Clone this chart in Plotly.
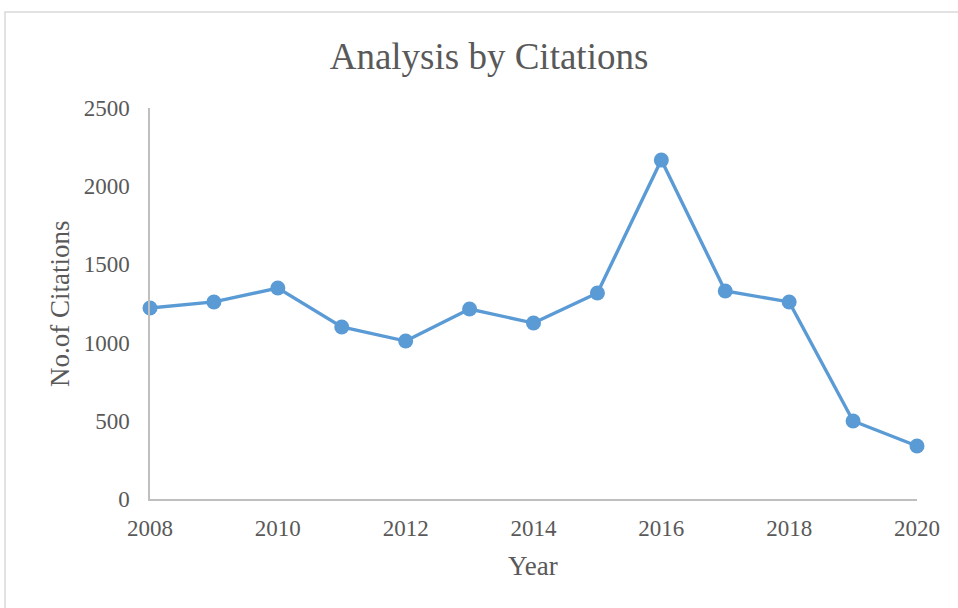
import plotly.graph_objects as go

years = [2008, 2009, 2010, 2011, 2012, 2013, 2014, 2015, 2016, 2017, 2018, 2019, 2020]
citations = [1221, 1260, 1349, 1100, 1010, 1215, 1125, 1317, 2167, 1330, 1260, 499, 339]
x_ticks = [2008, 2010, 2012, 2014, 2016, 2018, 2020]
y_ticks = [0, 500, 1000, 1500, 2000, 2500]

W, H = 958, 608
L, R, T, B = 150, 41, 108, 109
pw, ph = W - L - R, H - T - B

FONT = "Liberation Serif, Times New Roman, serif"
GRAY = "#595959"
BLUE = "#5b9bd5"

fig = go.Figure()
fig.add_trace(go.Scatter(
    x=years, y=citations, mode="lines+markers",
    line=dict(color=BLUE, width=3.4),
    marker=dict(color=BLUE, size=15),
    cliponaxis=False, showlegend=False,
))

def px_x(p):
    return (p - L) / pw

def px_y(p):
    return (H - B - p) / ph

fig.update_layout(
    width=W, height=H,
    margin=dict(l=L, r=R, t=T, b=B),
    paper_bgcolor="white", plot_bgcolor="white",
    font=dict(family=FONT, color=GRAY),
    title=dict(text="Analysis by Citations", font=dict(size=37, color=GRAY, family=FONT),
               x=px_x(489), xref="paper", xanchor="center",
               y=1 - 56 / H, yref="container", yanchor="middle"),
    xaxis=dict(range=[2008, 2020], tickvals=x_ticks, showgrid=False, zeroline=False,
               showline=True, linecolor="#bfbfbf", linewidth=1.5,
               ticks="", ticklabelstandoff=8,
               tickfont=dict(size=23, color=GRAY, family=FONT)),
    yaxis=dict(range=[0, 2500], tickvals=y_ticks, showgrid=False, zeroline=False,
               showline=True, linecolor="#bfbfbf", linewidth=1.5,
               ticks="", ticklabelstandoff=14,
               tickfont=dict(size=23, color=GRAY, family=FONT)),
    shapes=[dict(type="rect", xref="paper", yref="paper",
                 x0=px_x(5), x1=px_x(980), y0=px_y(640), y1=px_y(12),
                 line=dict(color="#d9d9d9", width=1.5), fillcolor="rgba(0,0,0,0)",
                 layer="below")],
    annotations=[
        dict(text="No.of Citations", xref="paper", yref="paper",
             x=px_x(60), y=px_y(304), xanchor="center", yanchor="middle",
             textangle=-90, showarrow=False, font=dict(size=27, color=GRAY, family=FONT)),
        dict(text="Year", xref="paper", yref="paper",
             x=px_x(533), y=px_y(566), xanchor="center", yanchor="middle",
             showarrow=False, font=dict(size=27, color=GRAY, family=FONT)),
    ],
)

fig.write_html("out.html")
